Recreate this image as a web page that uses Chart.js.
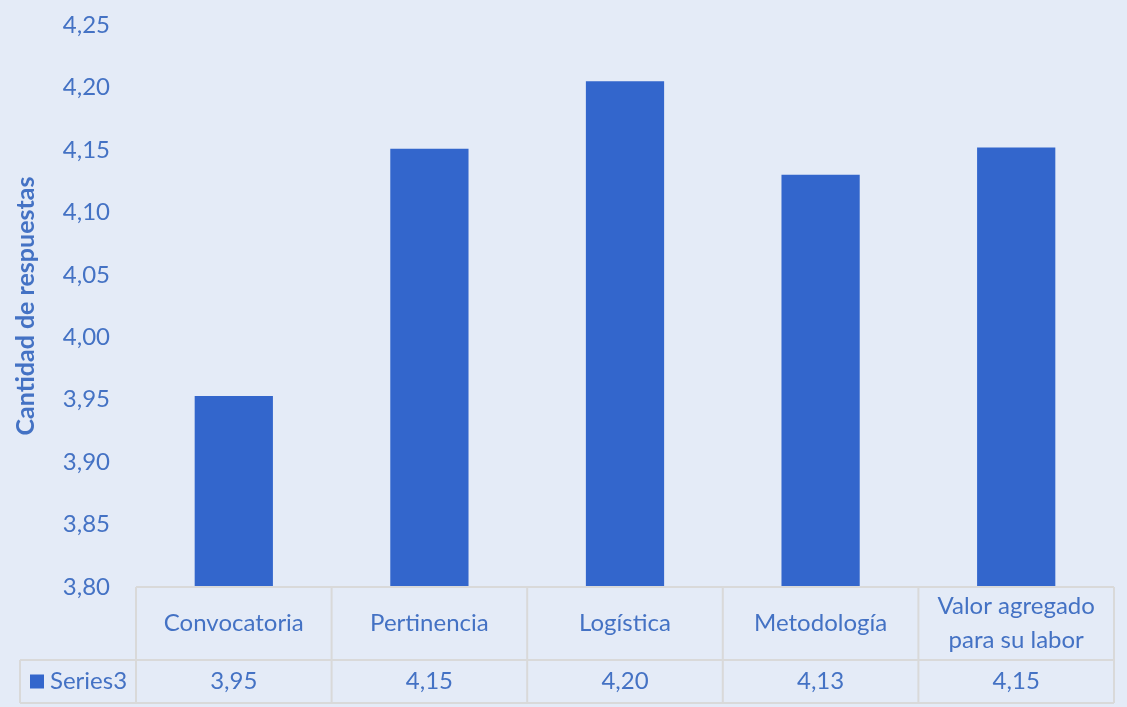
<!DOCTYPE html>
<html>
<head>
<meta charset="utf-8">
<script src="https://cdn.jsdelivr.net/npm/chart.js@4/dist/chart.umd.min.js"></script>
<style>
  html, body { margin: 0; padding: 0; background: #E4EBF7; }
  #wrap { width: 1127px; height: 707px; }
</style>
</head>
<body>
<div id="wrap"><canvas id="c" width="1127" height="707"></canvas></div>
<script>
// Categories shown in the data table header (multi-line labels as arrays)
const categories = [
  ['Convocatoria'],
  ['Pertinencia'],
  ['Logística'],
  ['Metodología'],
  ['Valor agregado', 'para su labor']
];
// Average score per category
const seriesName = 'Series3';
const seriesValues = [3.953, 4.151, 4.205, 4.130, 4.152];
// Values printed in the data table
const tableValues = ['3,95', '4,15', '4,20', '4,13', '4,15'];
// Value axis range
const yMin = 3.80;
const yMax = 4.25;
const yStep = 0.05;

const TEXT = '#4472C4';
const BAR = '#3366CC';
const GRID = '#D9D9D9';
const FONT = 'Lato, "Open Sans", sans-serif';
const FS = 24;

const fmt = v => v.toFixed(2).replace('.', ',');

// Draws the data table underneath the plot area
const dataTable = {
  id: 'dataTable',
  afterDraw(chart) {
    const ctx = chart.ctx;
    const xs = chart.scales.x;
    const area = chart.chartArea;
    const n = categories.length;
    const colW = (area.right - area.left) / n;
    const top = area.bottom;
    const mid = top + 73;
    const bot = top + 116;
    const legL = 20;

    ctx.save();
    ctx.strokeStyle = GRID;
    ctx.lineWidth = 2;
    ctx.beginPath();
    // horizontal rules
    ctx.moveTo(area.left, top); ctx.lineTo(area.right, top);
    ctx.moveTo(legL, mid); ctx.lineTo(area.right, mid);
    ctx.moveTo(legL, bot); ctx.lineTo(area.right, bot);
    // vertical rules
    ctx.moveTo(legL, mid); ctx.lineTo(legL, bot);
    for (let i = 0; i <= n; i++) {
      const x = area.left + i * colW;
      ctx.moveTo(x, top); ctx.lineTo(x, bot);
    }
    ctx.stroke();

    ctx.fillStyle = TEXT;
    ctx.font = FS + 'px ' + FONT;
    ctx.textAlign = 'center';
    ctx.textBaseline = 'middle';
    const lh = 34;
    categories.forEach((lines, i) => {
      const cx = xs.getPixelForValue(i);
      const cy = (top + mid) / 2;
      const y0 = cy - (lines.length - 1) * lh / 2;
      lines.forEach((t, j) => ctx.fillText(t, cx, y0 + j * lh));
      ctx.fillText(tableValues[i], cx, (mid + bot) / 2);
    });

    // legend key + series name
    const ry = (mid + bot) / 2;
    ctx.fillStyle = BAR;
    ctx.fillRect(30, ry - 7, 14, 14);
    ctx.fillStyle = TEXT;
    ctx.textAlign = 'left';
    ctx.fillText(seriesName, 50, ry);
    ctx.restore();
  }
};

new Chart(document.getElementById('c'), {
  type: 'bar',
  data: {
    labels: categories.map(c => c.join(' ')),
    datasets: [{
      label: seriesName,
      data: seriesValues,
      backgroundColor: BAR,
      borderWidth: 0,
      categoryPercentage: 1,
      barPercentage: 0.4
    }]
  },
  options: {
    responsive: false,
    animation: false,
    layout: { padding: { left: 0, right: 13, top: 25, bottom: 120 } },
    plugins: { legend: { display: false }, tooltip: { enabled: false } },
    scales: {
      x: { display: false },
      y: {
        min: yMin,
        max: yMax,
        afterFit(scale) {
          scale.width = 136;
          scale.paddingTop = 0;
          scale.paddingBottom = 0;
        },
        grid: { display: false, drawTicks: false },
        border: { display: false },
        ticks: {
          stepSize: yStep,
          padding: 26,
          color: TEXT,
          font: { family: FONT, size: FS },
          callback: v => fmt(v)
        },
        title: {
          display: true,
          text: 'Cantidad de respuestas',
          color: TEXT,
          font: { family: FONT, size: 25, weight: 'bold' },
          padding: { top: 11, bottom: 0 }
        }
      }
    }
  },
  plugins: [dataTable]
});
</script>
</body>
</html>
